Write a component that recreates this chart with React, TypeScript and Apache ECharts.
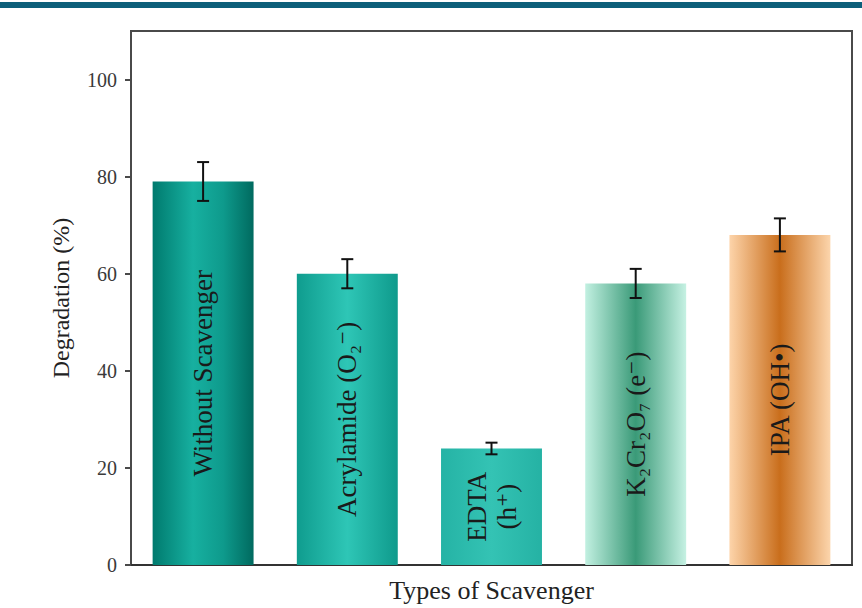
import React, { useEffect, useRef } from "react";
import * as echarts from "echarts";

const categories = ["Without Scavenger", "Acrylamide (O₂⁻)", "EDTA\n(h⁺)", "K₂Cr₂O₇ (e⁻)", "IPA (OH•)"];
const values = [79, 60, 24, 58, 68];
const errors = [4, 3, 1.2, 3, 3.4];
const yTicks = [0, 20, 40, 60, 80, 100];

const barStops: [number, string][][] = [
  [[0, "#007a6e"], [0.4, "#17b0a0"], [0.7, "#0e9a8c"], [1, "#006a5f"]],
  [[0, "#0f9c8e"], [0.5, "#2ec6b6"], [1, "#0f9a8c"]],
  [[0, "#25b3a5"], [0.5, "#34c3b4"], [1, "#25b2a4"]],
  [[0, "#c2f0e1"], [0.5, "#3a9a78"], [1, "#c6f1e3"]],
  [[0, "#fdd4aa"], [0.5, "#c96e1c"], [1, "#fcd5ac"]],
];

const FONT = "'Liberation Serif', 'DejaVu Serif', serif";

export default function App() {
  const ref = useRef<HTMLDivElement>(null);
  useEffect(() => {
    if (!ref.current) return;
    const chart = echarts.init(ref.current, undefined, { renderer: "svg" });
    const barData = values.map((v, i) => ({
      value: v,
      itemStyle: {
        color: new echarts.graphic.LinearGradient(
          0, 0, 1, 0,
          barStops[i].map(([offset, color]) => ({ offset, color }))
        ),
      },
    }));
    chart.setOption({
      animation: false,
      backgroundColor: "#ffffff",
      graphic: [
        { type: "rect", left: 0, top: 2, shape: { width: 862, height: 6 }, style: { fill: "#0d5f7a" }, z: 10 },
      ],
      grid: {
        left: 131, right: 10, top: 31, bottom: 43,
        outerBoundsMode: "none",
        containLabel: false,
        show: true, borderColor: "#4a4a4a", borderWidth: 2, backgroundColor: "transparent",
      },
      xAxis: {
        type: "category",
        data: categories,
        name: "Types of Scavenger",
        nameLocation: "middle",
        nameGap: 12,
        nameTextStyle: { fontFamily: FONT, fontSize: 26, color: "#222", verticalAlign: "top" },
        axisLine: { lineStyle: { color: "#333", width: 2 } },
        axisTick: { show: false },
        axisLabel: { show: false },
      },
      yAxis: {
        type: "value",
        min: 0, max: 110, interval: 20,
        name: "Degradation (%)",
        nameLocation: "middle",
        nameGap: 58,
        nameTextStyle: { fontFamily: FONT, fontSize: 24, color: "#222" },
        axisLine: { show: true, lineStyle: { color: "#4a4a4a", width: 2 } },
        axisTick: { show: true, length: 6, lineStyle: { color: "#4a4a4a", width: 2 }, customValues: yTicks },
        axisLabel: { fontFamily: FONT, fontSize: 20, color: "#3a3a3a", margin: 14, customValues: yTicks },
        splitLine: { show: false },
      },
      series: [
        {
          type: "bar",
          data: barData,
          barWidth: "70%",
          label: {
            show: true,
            position: "inside",
            rotate: 90,
            formatter: (p: any) => categories[p.dataIndex],
            fontFamily: FONT,
            fontSize: 27,
            color: "#1a1a1a",
            lineHeight: 30,
          },
        },
        {
          type: "custom",
          data: values.map((v, i) => [i, v, errors[i]]),
          z: 10,
          renderItem: (params: any, api: any) => {
            const i = api.value(0);
            const v = api.value(1);
            const e = api.value(2);
            const top = api.coord([i, v + e]);
            const bot = api.coord([i, v - e]);
            const cap = 6;
            const style = { stroke: "#111", lineWidth: 2 };
            return {
              type: "group",
              children: [
                { type: "line", shape: { x1: top[0], y1: top[1], x2: bot[0], y2: bot[1] }, style },
                { type: "line", shape: { x1: top[0] - cap, y1: top[1], x2: top[0] + cap, y2: top[1] }, style },
                { type: "line", shape: { x1: bot[0] - cap, y1: bot[1], x2: bot[0] + cap, y2: bot[1] }, style },
              ],
            };
          },
        },
      ],
    });
    return () => chart.dispose();
  }, []);
  return <div ref={ref} style={{ width: 862, height: 608, position: "absolute", left: 0, top: 0 }} />;
}
